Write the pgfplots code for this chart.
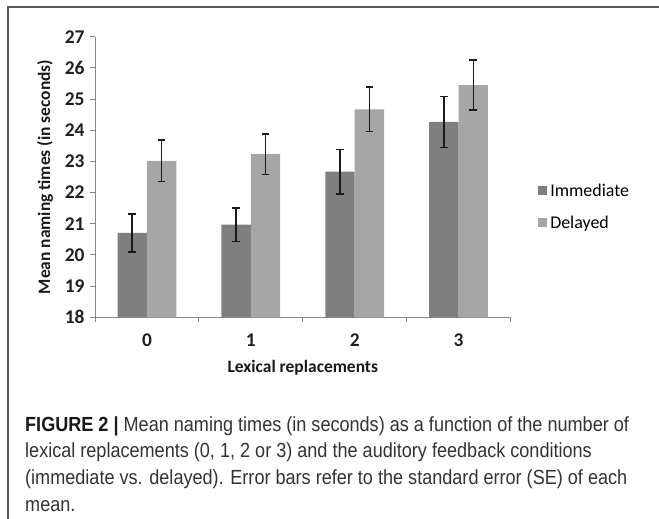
\documentclass[border=0pt]{standalone}
\usepackage{pgfplots}
\pgfplotsset{compat=1.18}
\usepackage{fontspec}
\setmainfont{Carlito}
\newfontfamily\capfont{Liberation Sans}[FakeStretch=0.885]

\definecolor{immed}{HTML}{7F7F7F}
\definecolor{delay}{HTML}{A6A6A6}
\definecolor{axisgray}{HTML}{868686}

\pgfplotstableread{
x  imm   immse  del   delse
0  20.71 0.61   23.02 0.66
1  20.97 0.54   23.23 0.65
2  22.67 0.72   24.67 0.71
3  24.27 0.82   25.45 0.80
}\naming

\begin{document}
\begin{tikzpicture}[x=1bp,y=-1bp]
\useasboundingbox (0,0) rectangle (659,519);
\draw[line width=1.4bp, black!65] (8,519) -- (8,7) -- (659,7);
\begin{axis}[
  at={(95bp,-317.3bp)}, anchor=south west,
  scale only axis,
  width=415.5bp, height=280.6bp,
  ybar,
  xmin=-0.5, xmax=3.5,
  ymin=18, ymax=27,
  ytick={18,...,27},
  xtick={0,1,2,3},
  xticklabels={0,1,2,3},
  minor xtick={-0.5,0.5,1.5,2.5,3.5},
  major x tick style={draw=none},
  axis x line*=bottom,
  axis y line*=left,
  axis line style={axisgray, line width=1bp},
  tick style={axisgray, line width=1bp},
  tick align=outside,
  major tick length=5bp,
  minor tick length=5bp,
  /pgf/number format/assume math mode=true,
  ticklabel style={font=\fontsize{19.5}{22}\selectfont\bfseries, text=black!88},
  yticklabel style={xshift=-2bp},
  xticklabel style={yshift=-8bp},
  xlabel={Lexical replacements},
  ylabel={Mean naming times (in seconds)},
  label style={font=\fontsize{17.5}{20}\selectfont\bfseries, text=black!90},
  xlabel style={at={(axis description cs:0.5,0)}, anchor=center, yshift=-50.4bp},
  ylabel style={at={(axis description cs:-0.1203,0.5)}, anchor=center},
  legend style={
    at={(1.058,0.394)}, anchor=west,
    draw=none, fill=none,
    font=\fontsize{18}{21}\selectfont,
    row sep=14bp,
    legend cell align=left,
  },
  legend image code/.code={
    \fill[#1] (0bp,-4.5bp) rectangle (9bp,4.5bp);
    \path (10.5bp,0bp);
  },
  error bars/error bar style={line width=1.5bp, black!90},
  error bars/error mark options={rotate=90, mark size=3.8bp, line width=1.5bp, black!90},
  clip=false,
]
\addplot[ybar, bar width=29.4bp, bar shift=-14.7bp, fill=immed, draw=none,
  error bars/.cd, y dir=both, y explicit]
  table[x=x, y=imm, y error=immse] {\naming};
\addlegendentry{Immediate}
\addplot[ybar, bar width=29.4bp, bar shift=14.7bp, fill=delay, draw=none,
  error bars/.cd, y dir=both, y explicit]
  table[x=x, y=del, y error=delse] {\naming};
\addlegendentry{Delayed}
\end{axis}
\node[anchor=north west, align=left, inner sep=0pt, text=black!80,
  font=\capfont\fontsize{20.5}{26.8}\selectfont] at (25,416)
  {\textbf{\color{black!90}FIGURE 2 |} Mean naming times (in seconds) as a function of the number of\\
   lexical replacements (0, 1, 2 or 3) and the auditory feedback conditions\\
   (immediate vs. delayed). Error bars refer to the standard error (SE) of each\\
   mean.};
\end{tikzpicture}
\end{document}
